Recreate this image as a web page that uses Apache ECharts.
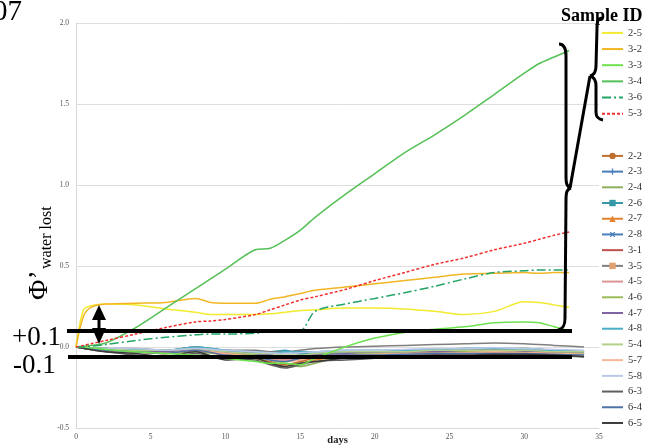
<!DOCTYPE html>
<html>
<head>
<meta charset="utf-8">
<script src="https://cdn.jsdelivr.net/npm/echarts@6/dist/echarts.min.js"></script>
<style>
  html, body { margin: 0; padding: 0; background: #fff; }
  #chart { width: 645px; height: 445px; }
</style>
</head>
<body>
<div id="chart"></div>
<script>
// highlighted samples (fine day grid)
var mainDays = [0, 0.5, 1, 2, 4, 6, 8, 9, 10, 12, 13, 14, 15, 16, 18, 20, 22, 24, 26, 28, 30, 31, 32, 33];
var v25 = [0, 0.23, 0.255, 0.265, 0.26, 0.235, 0.215, 0.2, 0.2, 0.2, 0.205, 0.215, 0.225, 0.23, 0.24, 0.24, 0.235, 0.22, 0.2, 0.22, 0.28, 0.275, 0.26, 0.245];
var v32 = [0, 0.19, 0.245, 0.265, 0.27, 0.275, 0.3, 0.275, 0.27, 0.27, 0.295, 0.31, 0.33, 0.35, 0.37, 0.39, 0.41, 0.43, 0.45, 0.455, 0.46, 0.455, 0.46, 0.46];
var v33 = [0, 0, -0.005, -0.015, -0.03, -0.04, -0.05, -0.06, -0.07, -0.09, -0.1, -0.1, -0.11, -0.07, 0.0, 0.055, 0.09, 0.11, 0.125, 0.15, 0.155, 0.15, 0.125, 0.1];
var v34 = [0, 0.005, 0.01, 0.025, 0.12, 0.24, 0.36, 0.42, 0.48, 0.6, 0.61, 0.66, 0.72, 0.8, 0.94, 1.07, 1.2, 1.31, 1.43, 1.56, 1.69, 1.75, 1.79, 1.83];
var v36 = [0, 0, 0.005, 0.015, 0.04, 0.06, 0.075, 0.08, 0.08, 0.085, 0.095, 0.1, 0.1, 0.22, 0.265, 0.3, 0.335, 0.375, 0.42, 0.46, 0.47, 0.475, 0.475, 0.475];
var v53 = [0, 0.01, 0.02, 0.04, 0.08, 0.12, 0.155, 0.16, 0.17, 0.2, 0.23, 0.26, 0.29, 0.31, 0.355, 0.41, 0.46, 0.51, 0.55, 0.6, 0.64, 0.665, 0.69, 0.71];

// other samples, all close to zero (coarse day grid)
var otherDays = [0, 2, 4, 6, 8, 10, 12, 13, 14, 15, 16, 18, 20, 22, 24, 26, 28, 30, 32, 34];
var v22 = [0, -0.02, -0.03, -0.035, -0.02, -0.04, -0.06, -0.09, -0.11, -0.09, -0.07, -0.05, -0.04, -0.03, -0.03, -0.02, -0.015, -0.01, -0.02, -0.03];
var v23 = [0, -0.015, -0.02, -0.03, -0.01, -0.03, -0.04, -0.05, -0.06, -0.05, -0.04, -0.03, -0.03, -0.02, -0.025, -0.02, -0.02, -0.02, -0.03, -0.04];
var v24 = [0, -0.02, -0.03, -0.04, -0.03, -0.05, -0.07, -0.08, -0.1, -0.12, -0.1, -0.06, -0.05, -0.04, -0.03, -0.03, -0.02, -0.03, -0.04, -0.04];
var v26 = [0, -0.01, -0.02, -0.02, 0.0, -0.02, -0.03, -0.03, -0.02, -0.04, -0.04, -0.03, -0.03, -0.03, -0.02, -0.01, -0.01, -0.01, -0.02, -0.03];
var v27 = [0, -0.02, -0.03, -0.04, -0.02, -0.05, -0.07, -0.1, -0.12, -0.1, -0.08, -0.06, -0.05, -0.04, -0.04, -0.03, -0.03, -0.03, -0.04, -0.05];
var v28 = [0, -0.01, -0.02, -0.025, -0.01, -0.03, -0.04, -0.06, -0.07, -0.06, -0.05, -0.04, -0.035, -0.03, -0.03, -0.025, -0.02, -0.02, -0.03, -0.04];
var v31 = [0, -0.02, -0.03, -0.03, -0.01, -0.04, -0.05, -0.07, -0.08, -0.08, -0.06, -0.05, -0.045, -0.04, -0.035, -0.03, -0.03, -0.03, -0.035, -0.04];
var v35 = [0, -0.01, -0.01, -0.02, 0.0, -0.02, -0.02, -0.03, -0.03, -0.02, -0.01, 0.0, 0.005, 0.01, 0.015, 0.02, 0.025, 0.02, 0.01, 0.0];
var v45 = [0, -0.02, -0.03, -0.03, -0.02, -0.04, -0.06, -0.07, -0.08, -0.07, -0.06, -0.05, -0.04, -0.04, -0.035, -0.03, -0.03, -0.035, -0.04, -0.05];
var v46 = [0, -0.01, -0.02, -0.03, -0.01, -0.03, -0.05, -0.06, -0.07, -0.06, -0.05, -0.04, -0.04, -0.03, -0.03, -0.03, -0.025, -0.03, -0.03, -0.04];
var v47 = [0, -0.02, -0.02, -0.03, -0.02, -0.03, -0.04, -0.05, -0.06, -0.06, -0.05, -0.04, -0.03, -0.03, -0.03, -0.02, -0.02, -0.025, -0.03, -0.03];
var v48 = [0, -0.01, -0.015, -0.02, 0.0, -0.02, -0.03, -0.04, -0.03, -0.03, -0.03, -0.02, -0.02, -0.02, -0.015, -0.01, -0.01, -0.015, -0.02, -0.03];
var v54 = [0, -0.01, -0.02, -0.02, -0.01, -0.03, -0.04, -0.04, -0.05, -0.05, -0.04, -0.03, -0.03, -0.03, -0.02, -0.02, -0.02, -0.02, -0.03, -0.03];
var v57 = [0, -0.02, -0.03, -0.04, -0.02, -0.04, -0.06, -0.08, -0.09, -0.08, -0.06, -0.05, -0.045, -0.04, -0.04, -0.035, -0.03, -0.035, -0.04, -0.045];
var v58 = [0, -0.01, -0.01, -0.02, -0.01, -0.02, -0.03, -0.035, -0.04, -0.035, -0.03, -0.02, -0.02, -0.015, -0.01, -0.01, -0.005, -0.01, -0.015, -0.02];
var v63 = [0, -0.03, -0.05, -0.07, -0.04, -0.07, -0.08, -0.11, -0.13, -0.11, -0.09, -0.08, -0.07, -0.06, -0.06, -0.055, -0.05, -0.05, -0.055, -0.06];
var v64 = [0, -0.02, -0.03, -0.04, -0.02, -0.05, -0.06, -0.08, -0.09, -0.07, -0.06, -0.05, -0.05, -0.045, -0.04, -0.04, -0.04, -0.04, -0.045, -0.05];
var v65 = [0, -0.03, -0.04, -0.06, -0.03, -0.08, -0.07, -0.1, -0.12, -0.1, -0.09, -0.07, -0.06, -0.055, -0.05, -0.05, -0.045, -0.045, -0.05, -0.06];

var yTicks = [-0.5, 0, 0.5, 1.0, 1.5, 2.0];
var xTicks = [0, 5, 10, 15, 20, 25, 30, 35];

var groupA = ['2-5', '3-2', '3-3', '3-4', '3-6', '5-3'];
var groupB = ['2-2', '2-3', '2-4', '2-6', '2-7', '2-8', '3-1', '3-5', '4-5', '4-6', '4-7', '4-8', '5-4', '5-7', '5-8', '6-3', '6-4', '6-5'];

var plus = 'path://M4,0L6,0L6,4L10,4L10,6L6,6L6,10L4,10L4,6L0,6L0,4L4,4Z';

// name -> [days, values, color, dash, symbol, symbolColor]
var samples = {
  '2-5': [mainDays, v25, '#f2ea2e'],
  '3-2': [mainDays, v32, '#f2b625'],
  '3-3': [mainDays, v33, '#6ee24e'],
  '3-4': [mainDays, v34, '#55c055'],
  '3-6': [mainDays, v36, '#23a466', [9, 3, 2, 3]],
  '5-3': [mainDays, v53, '#ee3030', [3, 2]],
  '2-2': [otherDays, v22, '#c0702e', null, 'circle'],
  '2-3': [otherDays, v23, '#4a7ebb', null, plus],
  '2-4': [otherDays, v24, '#8fb05a'],
  '2-6': [otherDays, v26, '#3597a8', null, 'rect'],
  '2-7': [otherDays, v27, '#e3832e', null, 'triangle'],
  '2-8': [otherDays, v28, '#4a7ebb', null, plus],
  '3-1': [otherDays, v31, '#c0504d'],
  '3-5': [otherDays, v35, '#7f7f7f', null, 'rect', '#e0a070'],
  '4-5': [otherDays, v45, '#d99694'],
  '4-6': [otherDays, v46, '#9bbb59'],
  '4-7': [otherDays, v47, '#8064a2'],
  '4-8': [otherDays, v48, '#4bacc6'],
  '5-4': [otherDays, v54, '#b3d08a'],
  '5-7': [otherDays, v57, '#f8b696'],
  '5-8': [otherDays, v58, '#b9c8e6'],
  '6-3': [otherDays, v63, '#5f5f5f'],
  '6-4': [otherDays, v64, '#4f73a8'],
  '6-5': [otherDays, v65, '#3a3a3a']
};

function pairs(days, vals) {
  return vals.map(function (v, i) { return [days[i], v]; });
}

var series = groupB.concat(groupA).map(function (name) {
  var s = samples[name];
  return {
    name: name,
    type: 'line',
    data: pairs(s[0], s[1]),
    smooth: 0.3,
    showSymbol: false,
    symbol: s[4] || 'none',
    symbolRotate: name === '2-8' ? 45 : 0,
    lineStyle: { color: s[2], width: 1.5, type: s[3] || 'solid' },
    itemStyle: { color: s[5] || s[2] },
    z: groupA.indexOf(name) >= 0 ? 3 : 2
  };
});

function legendItems(names) {
  return names.map(function (n) {
    return samples[n][4] ? { name: n } : { name: n, itemStyle: { opacity: 0 } };
  });
}

// annotation helpers (pixel positions of the hand-drawn marks)
function ink(el) { el.z = 100; el.style = Object.assign({ stroke: '#000', lineWidth: 3, fill: null }, el.style || {}); return el; }
function seg(x1, y1, x2, y2, w) { return ink({ type: 'line', shape: { x1: x1, y1: y1, x2: x2, y2: y2 }, style: { lineWidth: w || 3 } }); }
function curve(x1, y1, a, b, c, d, x2, y2) {
  return ink({ type: 'bezierCurve', shape: { x1: x1, y1: y1, cpx1: a, cpy1: b, cpx2: c, cpy2: d, x2: x2, y2: y2 } });
}
function label(txt, x, y, font, rot) {
  return { type: 'text', x: x, y: y, rotation: rot || 0, z: 100,
    style: { text: txt, font: font, fill: '#000', textAlign: 'left', align: 'left', textVerticalAlign: 'middle', verticalAlign: 'middle' } };
}

var serif = 'Liberation Serif';
var legendBase = {
  orient: 'vertical', left: 601, padding: 0,
  itemWidth: 21, itemHeight: 8,
  selectedMode: false,
  textStyle: { fontFamily: serif, fontSize: 10.5, color: '#333' }
};

var chart = echarts.init(document.getElementById('chart'));
chart.setOption({
  animation: false,
  backgroundColor: '#fff',
  grid: { left: 76, right: 46, top: 23, bottom: 17, outerBoundsMode: 'none', containLabel: false },
  legend: [
    Object.assign({}, legendBase, { top: 27.4, itemGap: 5.15, data: legendItems(groupA) }),
    Object.assign({}, legendBase, { top: 150.4, itemGap: 4.71, data: legendItems(groupB) })
  ],
  xAxis: {
    type: 'value', min: xTicks[0], max: xTicks[xTicks.length - 1], interval: 5,
    name: 'days', nameLocation: 'middle', nameGap: 7, nameMoveOverlap: false,
    nameTextStyle: { fontFamily: serif, fontWeight: 'bold', fontSize: 10.5, color: '#222' },
    axisLine: { show: true, onZero: false, lineStyle: { color: '#d9d9d9' } },
    axisTick: { show: false },
    splitLine: { show: false },
    axisLabel: { fontFamily: serif, fontSize: 7.5, color: '#555', margin: 5 }
  },
  yAxis: {
    type: 'value', min: yTicks[0], max: yTicks[yTicks.length - 1], interval: 0.5,
    axisLine: { show: true, lineStyle: { color: '#d9d9d9' } },
    axisTick: { show: false },
    splitLine: { lineStyle: { color: '#dedede' } },
    axisLabel: { fontFamily: serif, fontSize: 7.5, color: '#555', margin: 7,
      formatter: function (v) { return v.toFixed(1); } }
  },
  series: series,
  graphic: { elements: [
    label('07', -7, 12, '29px "Liberation Serif"'),
    label('Sample ID', 561, 16, 'bold 18px "Liberation Serif"'),
    label('Φ’', 40, 300, '28px "Liberation Serif"', Math.PI / 2),
    label('water lost', 47, 269, '16px "Liberation Serif"', Math.PI / 2),
    label('+0.1', 12, 338, '27px "Liberation Serif"'),
    label('-0.1', 13, 366, '27px "Liberation Serif"'),
    seg(67, 331, 572, 331, 4),
    seg(68, 357, 572, 357, 4),
    seg(99, 316, 99, 332, 3),
    { type: 'polygon', z: 100, shape: { points: [[99, 305], [92, 320], [106, 320]] }, style: { fill: '#000' } },
    { type: 'polygon', z: 100, shape: { points: [[92, 328], [106, 328], [99, 344]] }, style: { fill: '#000' } },
    // big brace right of the plot
    curve(559, 44, 564, 44, 566, 48, 566, 56),
    seg(566, 56, 566, 176),
    curve(566, 176, 566, 184, 567, 187, 571, 188),
    curve(571, 188, 567, 189, 566, 192, 566, 200),
    seg(566, 200, 565, 318),
    curve(565, 318, 565, 326, 563, 329, 558, 330),
    // brace over the first legend group
    curve(603, 18, 598, 18, 597, 21, 597, 28),
    seg(597, 28, 596, 66),
    curve(596, 66, 596, 72, 594, 75, 590, 76),
    curve(590, 76, 594, 77, 596, 80, 596, 86),
    seg(596, 86, 596, 112),
    curve(596, 112, 596, 117, 598, 119, 603, 120),
    seg(570, 188, 590, 76)
  ] }
});
</script>
</body>
</html>
